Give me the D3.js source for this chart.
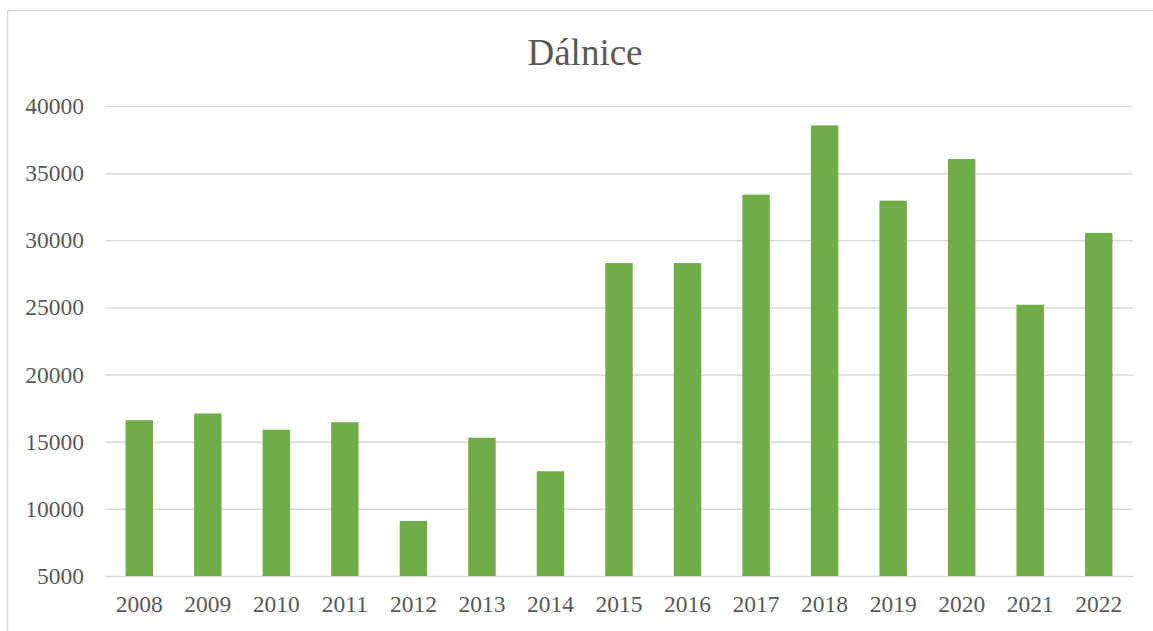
<!DOCTYPE html>
<html>
<head>
<meta charset="utf-8">
<script src="https://cdn.jsdelivr.net/npm/d3@7"></script>
<style>
  body { margin: 0; background: #fff; }
  svg { display: block; }
  svg text { font-family: 'Liberation Serif', serif; }
</style>
</head>
<body>
<div class="canvas"></div>
<script>
const years = ['2008', '2009', '2010', '2011', '2012', '2013', '2014', '2015',
  '2016', '2017', '2018', '2019', '2020', '2021', '2022'];
const values = [16600, 17100, 15900, 16450, 9100, 15300, 12800, 28300,
  28300, 33400, 38560, 32950, 36050, 25200, 30550];
const yTicks = [5000, 10000, 15000, 20000, 25000, 30000, 35000, 40000];
const title = 'Dálnice';

const width = 1153, height = 631;
const font = 'Liberation Serif, serif';

const svg = d3.select('.canvas')
  .append('svg')
  .attr('width', width)
  .attr('height', height)
  .attr('font-family', font);

// chart border (runs off the right and bottom edges)
svg.append('rect')
  .attr('x', 7.5)
  .attr('y', 10.5)
  .attr('width', 1300)
  .attr('height', 800)
  .attr('fill', '#fff')
  .attr('stroke', '#d9d9d9')
  .attr('stroke-width', 1.5);

// plot area
const plot = { left: 105, right: 1133, top: 106, bottom: 576 };

const x = d3.scaleBand()
  .domain(years)
  .range([plot.left, plot.right])
  .paddingInner(0.6)
  .paddingOuter(0.3);

const y = d3.scaleLinear()
  .domain([5000, 40000])
  .range([plot.bottom, plot.top]);

// gridlines + y labels
const yAxis = d3.axisLeft(y)
  .tickValues(yTicks)
  .tickSize(-(plot.right - plot.left))
  .tickPadding(21)
  .tickFormat(d => d);

const yAxisGroup = svg.append('g')
  .attr('transform', `translate(${plot.left},0)`)
  .call(yAxis)
  .attr('font-family', font)
  .attr('font-size', 23.5);

yAxisGroup.select('.domain').remove();
yAxisGroup.selectAll('line')
  .attr('stroke', '#d9d9d9')
  .attr('stroke-width', 1.5);
yAxisGroup.selectAll('text')
  .attr('fill', '#595959');

// bars
svg.append('g')
  .selectAll('rect')
  .data(values)
  .enter()
  .append('rect')
  .attr('x', (d, i) => x(years[i]))
  .attr('width', x.bandwidth())
  .attr('y', d => y(d))
  .attr('height', d => y(5000) - y(d))
  .attr('fill', '#70ad47');

// x labels
const xAxis = d3.axisBottom(x).tickSize(0).tickPadding(19);
const xAxisGroup = svg.append('g')
  .attr('transform', `translate(0,${plot.bottom})`)
  .call(xAxis)
  .attr('font-family', font)
  .attr('font-size', 23.5);

xAxisGroup.select('.domain').remove();
xAxisGroup.selectAll('text')
  .attr('fill', '#595959');

// title
svg.append('text')
  .attr('x', 585)
  .attr('y', 65)
  .attr('text-anchor', 'middle')
  .attr('fill', '#595959')
  .attr('font-size', 37)
  .text(title);
</script>
</body>
</html>
